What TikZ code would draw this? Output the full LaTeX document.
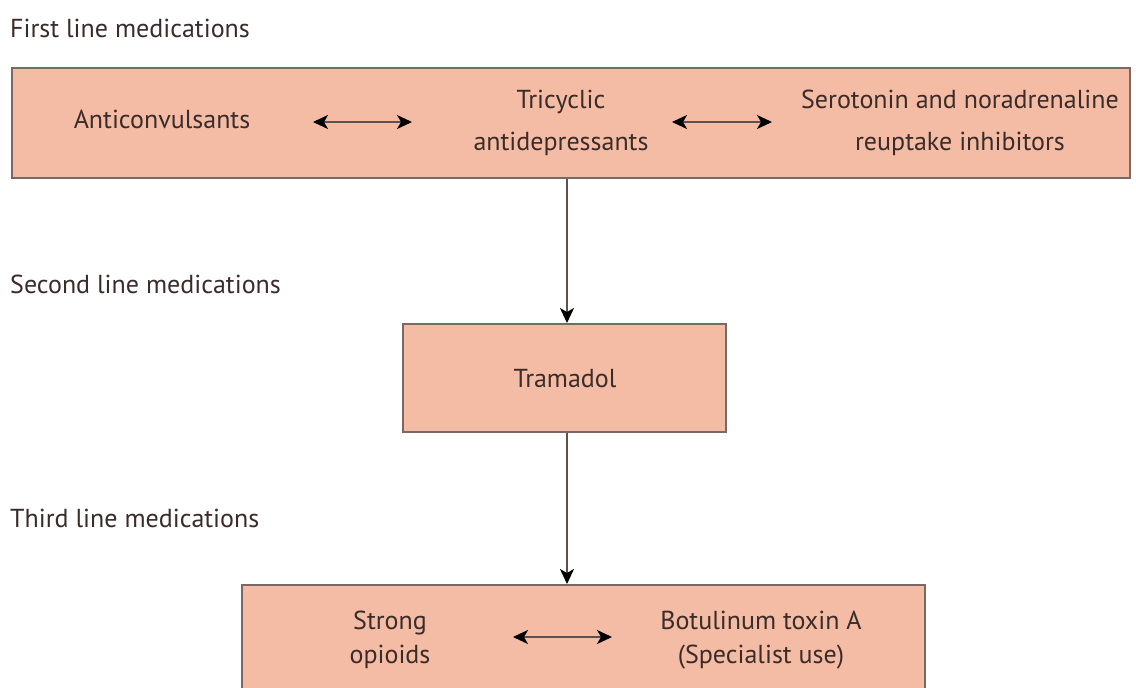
\documentclass[tikz,border=0pt]{standalone}
\usepackage{fontspec}
\setmainfont{PT Sans}
\usetikzlibrary{arrows.meta}
\definecolor{boxfill}{HTML}{F4BCA4}
\definecolor{boxline}{HTML}{7A6864}
\definecolor{txt}{HTML}{3A2C2A}
\definecolor{shaft}{HTML}{5E504C}
\tikzset{
  x=1pt, y=-1pt,
  box/.style={draw=boxline, fill=boxfill, line width=2pt, inner sep=0pt},
  lbl/.style={text=txt, font=\fontsize{26}{42}\selectfont, align=center, inner sep=0pt},
  lblb/.style={text=txt, font=\fontsize{26}{34}\selectfont, align=center, inner sep=0pt},
  head/.style={text=txt, font=\fontsize{26}{30}\selectfont, anchor=base west, inner sep=0pt},
  conn/.style={draw=shaft, line width=1.8pt, -{Stealth[length=15pt,width=14pt,inset=4pt,color=black]}},
  dconn/.style={draw=shaft, line width=1.8pt, {Stealth[length=15pt,width=14pt,inset=4pt,color=black]}-{Stealth[length=15pt,width=14pt,inset=4pt,color=black]}}
}
\begin{document}
\begin{tikzpicture}
\useasboundingbox (0,0) rectangle (1136,688);
\clip (0,0) rectangle (1136,688);
\fill[white] (0,0) rectangle (1136,688);
% headings
\node[head] (h1) at (10,37) {First line medications};
\node[head] (h2) at (10,293) {Second line medications};
\node[head] (h3) at (10,527) {Third line medications};
% boxes
\node[box, minimum width=1118, minimum height=110] (first) at (571,123) {};
\node[box, minimum width=323, minimum height=108] (second) at (564.5,378) {};
\node[box, minimum width=683, minimum height=140] (third) at (583.5,655) {};
% first line texts
\node[lbl, anchor=base] (anti) at (162,128) {Anticonvulsants};
\node[lbl] (tca) at (561,123) {Tricyclic\\antidepressants};
\node[lbl] (snri) at (960,123) {Serotonin and noradrenaline\\reuptake inhibitors};
\coordinate (a1l) at (313,122);
\coordinate (a1r) at (412,122);
\coordinate (a2l) at (672,122);
\coordinate (a2r) at (772,122);
\draw[dconn] (a1l) -- (a1r);
\draw[dconn] (a2l) -- (a2r);
% second line
\node[lbl, anchor=base] (tram) at (565,387) {Tramadol};
% third line
\node[lblb] (opi) at (390,640) {Strong\\opioids};
\node[lblb] (botu) at (761,640) {Botulinum toxin A\\(Specialist use)};
\coordinate (a3l) at (513,637);
\coordinate (a3r) at (612,637);
\draw[dconn] (a3l) -- (a3r);
% vertical connectors
\coordinate (vx) at (567,0);
\draw[conn] (first.south -| vx) -- (second.north -| vx);
\draw[conn] (second.south -| vx) -- (third.north -| vx);
\end{tikzpicture}
\end{document}
